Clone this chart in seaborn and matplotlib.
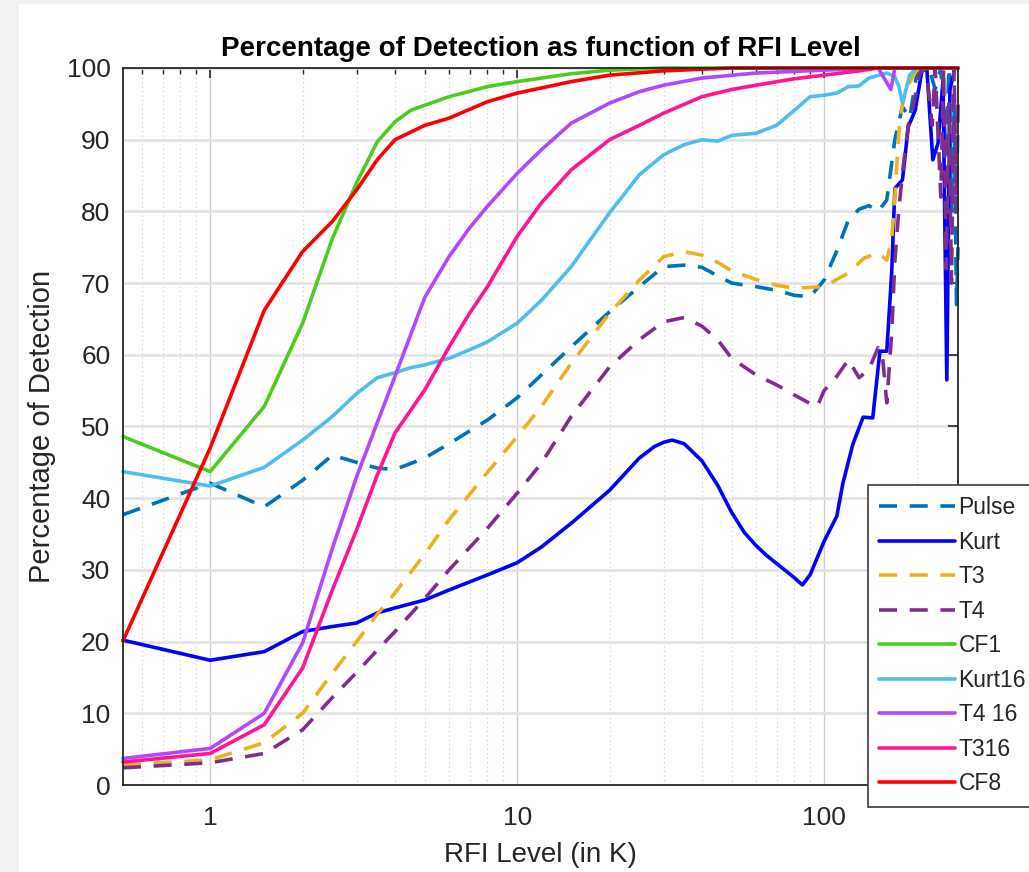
import matplotlib
matplotlib.use("Agg")
import matplotlib.pyplot as plt
import seaborn as sns
from matplotlib.patches import Rectangle
from matplotlib.ticker import NullFormatter, LogLocator

# ---- detection curves (RFI level in K -> % detected) ----
pulse_x = [0.52, 1, 1.5, 2, 2.5, 3, 3.5, 4, 5, 6, 8, 10, 12, 15, 20, 25, 30, 35, 40, 45,
           50, 60, 70, 80, 90, 100, 110, 120, 130, 140, 150, 160, 170, 180, 190, 200,
           210, 220, 230, 240, 250, 255, 260, 265, 270, 273]
pulse_y = [37.7, 42.1, 38.8, 42.5, 46.0, 45.0, 44.2, 44.0, 45.6, 47.6, 50.9, 54.0, 57.2, 61.1,
           66.0, 69.5, 72.3, 72.5, 72.2, 71.0, 70.0, 69.5, 69.0, 68.3, 68.1, 70.4, 74.5, 78.8,
           80.3, 80.8, 80.0, 81.6, 90.0, 94.6, 93.0, 99.0, 100, 100, 97.0, 100, 88.0, 100,
           80.0, 95.0, 67.0, 75.0]

kurt_x = [0.52, 1, 1.5, 2, 2.5, 3, 3.5, 4, 5, 6, 8, 10, 12, 15, 20, 25, 28, 30, 32, 35, 40,
          45, 50, 55, 60, 65, 70, 80, 85, 90, 100, 110, 115, 124, 134, 144, 152, 160, 166, 170,
          180, 188, 198, 208, 216, 226, 235, 244, 251, 257, 267, 273]
kurt_y = [20.2, 17.4, 18.6, 21.4, 22.1, 22.6, 24.0, 24.7, 25.8, 27.2, 29.3, 31.0, 33.2, 36.5,
          41.1, 45.6, 47.2, 47.8, 48.1, 47.6, 45.2, 41.8, 38.0, 35.2, 33.4, 32.0, 30.9, 28.9,
          27.9, 29.3, 34.0, 37.5, 42.0, 47.5, 51.3, 51.2, 60.5, 60.5, 71.4, 83.2, 84.4, 91.8,
          94.1, 99.5, 100, 87.2, 89.5, 98.3, 56.5, 97.0, 100, 100]

t3_x = [0.52, 1, 1.5, 2, 2.5, 3, 3.5, 4, 5, 6, 8, 10, 12, 15, 20, 25, 30, 35, 40, 45, 50,
        60, 70, 80, 90, 100, 110, 120, 135, 150, 160, 166, 170, 175, 180, 190, 200, 210, 273]
t3_y = [2.8, 3.5, 5.9, 10.0, 15.6, 20.0, 23.8, 26.8, 32.2, 37.0, 43.6, 48.6, 52.8, 58.8, 65.8,
        70.4, 73.7, 74.4, 73.9, 72.9, 71.7, 70.5, 69.7, 69.3, 69.4, 69.5, 70.5, 71.4, 73.5,
        74.2, 73.2, 76.0, 82.0, 90.9, 95.1, 98.0, 99.7, 100, 100]

t4_x = [0.52, 1, 1.5, 2, 2.5, 3, 3.5, 4, 5, 6, 8, 10, 12, 15, 20, 25, 30, 35, 40, 45, 50,
        60, 70, 80, 90, 95, 100, 110, 120, 130, 140, 150, 155, 160, 166, 170, 175, 180, 188,
        195, 205, 215, 225, 230, 240, 245, 250, 255, 260, 265, 270, 273]
t4_y = [2.4, 3.1, 4.4, 7.7, 12.2, 15.7, 18.8, 21.4, 26.0, 30.0, 35.8, 40.7, 44.9, 51.4, 58.3,
        62.1, 64.6, 65.2, 64.0, 62.1, 59.5, 57.2, 55.8, 54.4, 53.2, 52.8, 55.0, 57.0, 59.3,
        56.8, 58.0, 61.0, 59.7, 53.3, 63.0, 73.0, 80.0, 85.4, 92.0, 94.6, 99.3, 100, 92.0,
        100, 82.0, 100, 72.0, 95.0, 70.0, 100, 80.0, 95.0]

cf1_x = [0.52, 1, 1.5, 2, 2.5, 3, 3.5, 4, 4.5, 5, 6, 8, 10, 15, 20, 30, 273]
cf1_y = [48.6, 43.7, 52.8, 64.4, 76.2, 84.0, 89.7, 92.5, 94.1, 94.8, 96.0, 97.4, 98.1, 99.2,
         99.7, 100, 100]

kurt16_x = [0.52, 1, 1.5, 2, 2.5, 3, 3.5, 4, 4.5, 5, 6, 7, 8, 10, 12, 15, 20, 25, 30, 35,
            40, 45, 50, 60, 70, 80, 90, 100, 110, 120, 130, 140, 160, 170, 175, 180, 190,
            200, 273]
kurt16_y = [43.7, 41.7, 44.3, 48.1, 51.4, 54.6, 56.8, 57.5, 58.2, 58.6, 59.5, 60.7, 61.8, 64.4,
            67.6, 72.3, 79.8, 85.1, 87.9, 89.3, 90.0, 89.8, 90.6, 90.9, 92.0, 94.1, 96.0, 96.2,
            96.5, 97.4, 97.5, 98.6, 99.3, 98.8, 97.5, 95.1, 99.0, 100, 100]

t416_x = [0.52, 1, 1.5, 2, 2.5, 3, 3.5, 4, 5, 6, 7, 8, 10, 12, 15, 20, 25, 30, 40, 60, 100,
          150, 165, 170, 273]
t416_y = [3.7, 5.1, 10.0, 19.8, 33.0, 43.0, 50.5, 57.0, 68.0, 73.7, 77.7, 80.7, 85.3, 88.6,
          92.3, 95.1, 96.7, 97.6, 98.6, 99.3, 99.7, 100, 97.0, 100, 100]

t316_x = [0.52, 1, 1.5, 2, 2.5, 3, 3.5, 4, 5, 6, 7, 8, 10, 12, 15, 20, 25, 30, 40, 50, 60,
          80, 100, 130, 150, 273]
t316_y = [3.2, 4.4, 8.4, 16.3, 27.2, 35.6, 43.2, 49.1, 55.1, 61.1, 65.8, 69.5, 76.5, 81.2,
          85.8, 90.0, 92.0, 93.7, 96.0, 97.0, 97.6, 98.5, 99.0, 99.6, 100, 100]

cf8_x = [0.52, 1, 1.5, 2, 2.5, 3, 3.5, 4, 5, 6, 8, 10, 15, 20, 30, 50, 273]
cf8_y = [20.1, 47.0, 66.2, 74.4, 78.6, 83.0, 87.2, 90.0, 92.0, 93.0, 95.3, 96.5, 98.1, 99.0,
         99.6, 100, 100]

labels = ["Pulse", "Kurt", "T3", "T4", "CF1", "Kurt16", "T4 16", "T316", "CF8"]
colors = ["#0072BD", "#0000FF", "#EDB120", "#7E2F8E", "#4DCC1F", "#4DBEEE", "#B048FF",
          "#FF1493", "#FF0000"]
dashed = [True, False, True, True, False, False, False, False, False]
xs = [pulse_x, kurt_x, t3_x, t4_x, cf1_x, kurt16_x, t416_x, t316_x, cf8_x]
ys = [pulse_y, kurt_y, t3_y, t4_y, cf1_y, kurt16_y, t416_y, t316_y, cf8_y]

sns.set_theme(style="white")
plt.rcParams["font.family"] = ["Liberation Sans", "DejaVu Sans"]

W, H = 1029, 872
fig = plt.figure(figsize=(W / 100, H / 100), dpi=100)
fig.patch.set_facecolor("#f2f2f2")
fig.add_artist(Rectangle((19 / W, 0), 1, 1 - 4 / H, transform=fig.transFigure,
                         facecolor="white", edgecolor="none", zorder=-10))

ax = fig.add_axes([123 / W, 1 - 785 / H, (958 - 123) / W, (785 - 68) / H])

for lab, c, d, x, y in zip(labels, colors, dashed, xs, ys):
    sns.lineplot(x=x, y=y, ax=ax, color=c, lw=2.6, label=lab, estimator=None, sort=False,
                 linestyle=(0, (5, 3.5)) if d else "-", clip_on=False)

ax.set_xscale("log")
ax.set_xlim(0.52, 273)
ax.set_ylim(0, 100)
ax.set_yticks(range(0, 101, 10))
ax.set_xticks([1, 10, 100], labels=["1", "10", "100"])
ax.xaxis.set_minor_locator(LogLocator(base=10, subs=range(2, 10), numticks=20))
ax.xaxis.set_minor_formatter(NullFormatter())

ax.set_axisbelow(True)
ax.grid(True, axis="y", which="major", color="#e4e4e4", lw=2.0)
ax.grid(True, axis="x", which="major", color="#cfcfcf", lw=1.0)
ax.grid(True, axis="x", which="minor", color="#c8c8c8", lw=0.8, ls=(0, (1, 3)))

ax.tick_params(which="both", direction="in", top=True, right=True, colors="#262626",
               labelcolor="#262626", labelsize=19)
ax.tick_params(which="major", length=7, width=1.2)
ax.tick_params(which="minor", length=4, width=1.0)
ax.tick_params(axis="y", which="major", pad=9)
ax.tick_params(axis="x", which="major", pad=15)
for sp in ax.spines.values():
    sp.set_visible(True)
    sp.set_color("#262626")
    sp.set_linewidth(1.3)

ax.set_title("Percentage of Detection as function of RFI Level", fontsize=20,
             fontweight="bold", color="black", pad=9)
ax.set_xlabel("RFI Level (in K)", fontsize=20, color="#262626", labelpad=9)
ax.set_ylabel("Percentage of Detection", fontsize=21, color="#262626", labelpad=8)

handles, labs = ax.get_legend_handles_labels()
leg = ax.legend(handles, labs, loc="upper left", bbox_to_anchor=(868 / W, 1 - 485 / H),
                bbox_transform=fig.transFigure, borderaxespad=0, frameon=True,
                fancybox=False, edgecolor="#3c3c3c", facecolor="white", framealpha=1,
                fontsize=16.5, handlelength=3.3, handletextpad=0.15, labelspacing=0.5,
                borderpad=0.5)
leg.get_frame().set_linewidth(1.2)
for t in leg.get_texts():
    t.set_color("#262626")

fig.savefig("out.png", dpi=100)
